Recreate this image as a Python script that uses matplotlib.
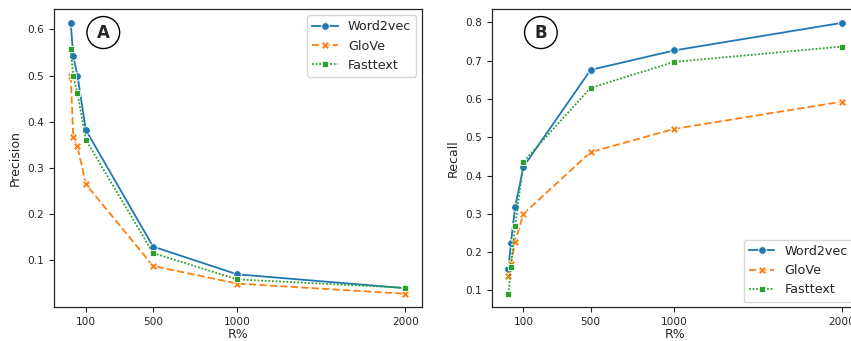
import matplotlib
matplotlib.use("Agg")
import matplotlib.pyplot as plt
from matplotlib.patches import Ellipse

R = [10, 25, 50, 100, 500, 1000, 2000]
models = ["Word2vec", "GloVe", "Fasttext"]

precision_w2v = [0.614, 0.542, 0.500, 0.382, 0.130, 0.070, 0.040]
precision_glove = [0.500, 0.367, 0.347, 0.265, 0.088, 0.050, 0.028]
precision_fast = [0.557, 0.498, 0.462, 0.361, 0.116, 0.059, 0.041]

recall_w2v = [0.156, 0.223, 0.317, 0.423, 0.676, 0.727, 0.799]
recall_glove = [0.138, 0.170, 0.227, 0.300, 0.461, 0.522, 0.593]
recall_fast = [0.091, 0.162, 0.267, 0.436, 0.629, 0.697, 0.737]

xticks = [100, 500, 1000, 2000]
yticks_A = [0.1, 0.2, 0.3, 0.4, 0.5, 0.6]
yticks_B = [0.1, 0.2, 0.3, 0.4, 0.5, 0.6, 0.7, 0.8]

colors = ["#1f77b4", "#ff7f0e", "#2ca02c"]
markers = ["o", "X", "s"]
dashes = [(None, None), (4, 1.8), (1, 1)]
msizes = [5.5, 5.5, 4.5]

dark = "#262626"
plt.rcParams["font.family"] = ["DejaVu Sans"]

fig = plt.figure(figsize=(8.51, 3.41), dpi=100)
W, H = 851, 341
axA = fig.add_axes([54 / W, (H - 307.3) / H, 368 / W, 298 / H])
axB = fig.add_axes([491.7 / W, (H - 307.3) / H, 367 / W, 298 / H])


def draw(ax, series, yticks, ylabel, loc, letter):
    for vals, name, c, m, d, ms in zip(series, models, colors, markers, dashes, msizes):
        ln, = ax.plot(R, vals, color=c, marker=m, markersize=ms, lw=1.3,
                      markeredgecolor="white", markeredgewidth=0.6, label=name)
        if d[0] is not None:
            ln.set_dashes(d)
    ax.set_xticks(xticks)
    ax.set_yticks(yticks)
    ax.set_xticklabels([str(t) for t in xticks])
    ax.set_yticklabels(["%.1f" % t for t in yticks])
    ax.tick_params(labelsize=7.6, colors=dark, length=3.5, width=0.8,
                   labelcolor=dark)
    for s in ax.spines.values():
        s.set_color(dark)
        s.set_linewidth(0.9)
    ax.set_xlabel("R%", fontsize=9, color=dark, labelpad=1)
    ax.set_ylabel(ylabel, fontsize=9, color=dark, labelpad=4)
    leg = ax.legend(loc=loc, fontsize=9.2, frameon=True, fancybox=True,
                    borderaxespad=0.45, handlelength=2.0)
    leg.get_frame().set_edgecolor("#cccccc")
    for t in leg.get_texts():
        t.set_color(dark)
    ax.add_patch(Ellipse((0.134, 0.922), 32.7 / 368, 32 / 298,
                         transform=ax.transAxes, facecolor="white",
                         edgecolor="black", lw=1.0, zorder=5))
    ax.text(0.134, 0.922, letter, transform=ax.transAxes, ha="center",
            va="center", fontsize=12, fontweight="bold", color=dark, zorder=6)


draw(axA, [precision_w2v, precision_glove, precision_fast], yticks_A,
     "Precision", "upper right", "A")
draw(axB, [recall_w2v, recall_glove, recall_fast], yticks_B,
     "Recall", "lower right", "B")

fig.savefig("out.png", dpi=100)
